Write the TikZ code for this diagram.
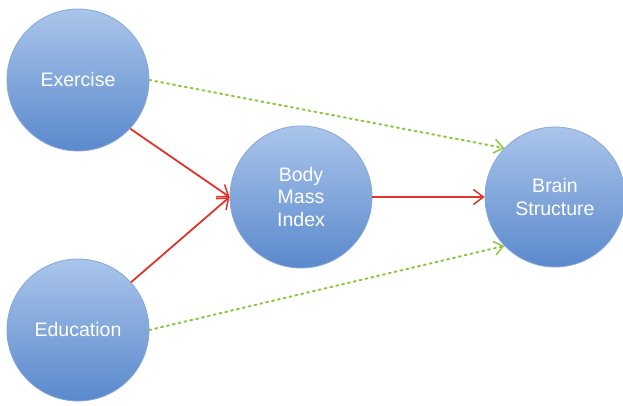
\documentclass[tikz,border=0pt]{standalone}
\usepackage{fontspec}
\setmainfont{Liberation Sans}
\usetikzlibrary{arrows.meta}
\definecolor{ctop}{HTML}{AAC5EA}
\definecolor{cbot}{HTML}{5A89CD}
\definecolor{cedge}{HTML}{86A7DA}
\definecolor{cred}{HTML}{E2332B}
\definecolor{cgreen}{HTML}{8DC63F}
\begin{document}
\begin{tikzpicture}[x=1pt,y=-1pt,
  bubble/.style={circle, minimum size=#1, inner sep=0pt, draw=cedge, line width=0.8pt,
    top color=ctop, bottom color=cbot, text=white, align=center,
    font=\fontsize{19.5}{22.5}\selectfont},
  redarrow/.style={draw=cred, line width=1.8pt, -{Straight Barb[length=10pt,width=15pt,line width=1.5pt]}},
  greenarrow/.style={draw=cgreen, line width=2pt, dash pattern=on 2pt off 4pt, line cap=round,
    -{Straight Barb[length=9pt,width=14pt,line width=1.5pt]}}]
\useasboundingbox (0,0) rectangle (623,405);
\node[bubble=142pt] (ex) at (78,80) {Exercise};
\node[bubble=142pt] (ed) at (78,330) {Education};
\node[bubble=142pt] (bmi) at (301,197) {Body\\Mass\\Index};
\node[bubble=140pt] (br) at (555,197) {Brain\\Structure};
\draw[greenarrow] (ex.east) -- (br.136);
\draw[greenarrow] (ed.east) -- (br.224);
\draw[redarrow] (ex.-43) -- (bmi.west);
\draw[redarrow] (ed.42) -- (bmi.west);
\draw[redarrow] (bmi.east) -- (br.west);
\end{tikzpicture}
\end{document}
